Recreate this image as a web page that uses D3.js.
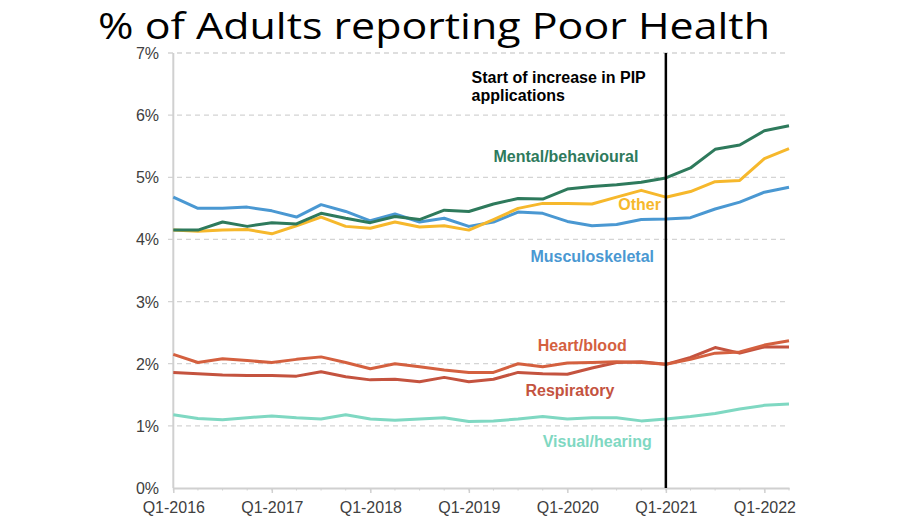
<!DOCTYPE html>
<html>
<head>
<meta charset="utf-8">
<script src="https://cdn.jsdelivr.net/npm/d3@7"></script>
<style>
  body { margin: 0; background: #fff; }
  text { font-family: "Liberation Sans", Arial, sans-serif; }
</style>
</head>
<body>
<script>
var quarters = [
  "Q1-2016", "Q2-2016", "Q3-2016", "Q4-2016",
  "Q1-2017", "Q2-2017", "Q3-2017", "Q4-2017",
  "Q1-2018", "Q2-2018", "Q3-2018", "Q4-2018",
  "Q1-2019", "Q2-2019", "Q3-2019", "Q4-2019",
  "Q1-2020", "Q2-2020", "Q3-2020", "Q4-2020",
  "Q1-2021", "Q2-2021", "Q3-2021", "Q4-2021",
  "Q1-2022", "Q2-2022"
]

var mental = [4.15, 4.15, 4.28, 4.21, 4.27, 4.25, 4.42, 4.34, 4.27, 4.37, 4.32, 4.47, 4.45,
  4.57, 4.66, 4.65, 4.81, 4.85, 4.88, 4.92, 4.99, 5.15, 5.45, 5.52, 5.75, 5.83]
var other = [4.15, 4.13, 4.15, 4.16, 4.09, 4.22, 4.36, 4.21, 4.18, 4.28, 4.20, 4.22, 4.15,
  4.32, 4.50, 4.58, 4.58, 4.57, 4.68, 4.79, 4.68, 4.77, 4.93, 4.95, 5.30, 5.46]
var musculo = [4.68, 4.50, 4.50, 4.52, 4.46, 4.36, 4.56, 4.45, 4.30, 4.41, 4.28, 4.34, 4.21,
  4.28, 4.44, 4.42, 4.29, 4.22, 4.24, 4.32, 4.33, 4.35, 4.49, 4.60, 4.76, 4.84]
var heart = [2.15, 2.02, 2.08, 2.05, 2.02, 2.07, 2.11, 2.02, 1.92, 2.00, 1.95, 1.90, 1.86,
  1.86, 2.00, 1.95, 2.01, 2.02, 2.03, 2.02, 1.99, 2.07, 2.17, 2.19, 2.30, 2.37]
var respiratory = [1.86, 1.84, 1.82, 1.81, 1.81, 1.80, 1.87, 1.79, 1.74, 1.75, 1.71, 1.78, 1.71,
  1.75, 1.86, 1.84, 1.83, 1.93, 2.02, 2.03, 1.99, 2.10, 2.26, 2.17, 2.27, 2.27]
var visual = [1.18, 1.12, 1.10, 1.13, 1.16, 1.13, 1.11, 1.18, 1.11, 1.09, 1.11, 1.13, 1.07,
  1.08, 1.11, 1.15, 1.11, 1.13, 1.13, 1.08, 1.11, 1.15, 1.20, 1.27, 1.33, 1.35]

var yTicks = [0, 1, 2, 3, 4, 5, 6, 7]
var markerQuarter = "Q1-2021"
var title = "% of Adults reporting Poor Health"
var note = ["Start of increase in PIP", "applications"]

var width = 920, height = 518

var svg = d3.select("body").append("svg")
  .attr("width", width)
  .attr("height", height)

var x = d3.scalePoint()
  .domain(quarters)
  .range([173.3, 789])

var y = d3.scaleLinear()
  .domain([0, 7])
  .range([488, 53])

// title
svg.append("text")
  .attr("x", 98)
  .attr("y", 39)
  .attr("textLength", 672)
  .attr("lengthAdjust", "spacingAndGlyphs")
  .style("font-family", "'Open Sans', 'Noto Sans', sans-serif")
  .style("font-size", "37px")
  .attr("fill", "#000")
  .text(title)

// dashed grid
svg.append("g")
  .selectAll("line")
  .data(yTicks.filter(function(d) { return d > 0 }))
  .join("line")
  .attr("x1", 168)
  .attr("x2", 789)
  .attr("y1", function(d) { return y(d) })
  .attr("y2", function(d) { return y(d) })
  .attr("stroke", "#d4d4d4")
  .attr("stroke-width", 1.3)
  .attr("stroke-dasharray", "5 4")

// y axis labels
svg.append("g")
  .selectAll("text")
  .data(yTicks)
  .join("text")
  .attr("x", 159)
  .attr("y", function(d) { return y(d) + 6 })
  .attr("text-anchor", "end")
  .attr("fill", "#404040")
  .style("font-size", "16px")
  .text(function(d) { return d + "%" })

// y axis line
svg.append("line")
  .attr("x1", x(quarters[0])).attr("x2", x(quarters[0]))
  .attr("y1", y(7)).attr("y2", y(0))
  .attr("stroke", "#d0d0d0")
  .attr("stroke-width", 2)

// x axis
var xAxis = d3.axisBottom(x)
  .tickValues(quarters.filter(function(d) { return d.indexOf("Q1") === 0 }))
  .tickSize(5)
  .tickSizeOuter(0)

var gx = svg.append("g")
  .attr("transform", "translate(0," + y(0) + ")")
  .call(xAxis)
gx.select(".domain").attr("stroke", "#d0d0d0").attr("stroke-width", 2)
gx.selectAll(".tick line").attr("stroke", "#d0d0d0").attr("stroke-width", 1.5)
gx.selectAll(".tick text")
  .attr("fill", "#404040")
  .attr("dy", "1.05em")
  .style("font-size", "16px")
  .style("font-family", "'Liberation Sans', Arial, sans-serif")

// quarter minor ticks
svg.append("g")
  .selectAll("line")
  .data(quarters)
  .join("line")
  .attr("x1", function(d) { return x(d) })
  .attr("x2", function(d) { return x(d) })
  .attr("y1", y(0))
  .attr("y2", y(0) + 2.5)
  .attr("stroke", "#d0d0d0")

var series = [
  { name: "Visual/hearing", values: visual, color: "#7fd8c2", lx: 15.0, ly: 0.665 },
  { name: "Respiratory", values: respiratory, color: "#c4533f", lx: 14.3, ly: 1.48 },
  { name: "Heart/blood", values: heart, color: "#d4603f", lx: 14.8, ly: 2.21 },
  { name: "Musculoskeletal", values: musculo, color: "#4a98d2", lx: 14.5, ly: 3.63 },
  { name: "Other", values: other, color: "#f6b82c", lx: 18.07, ly: 4.48 },
  { name: "Mental/behavioural", values: mental, color: "#2e7a5c", lx: 13.0, ly: 5.25 }
]

var line = d3.line()
  .x(function(d, i) { return x(quarters[i]) })
  .y(function(d) { return y(d) })

svg.append("g")
  .selectAll("path")
  .data(series)
  .join("path")
  .attr("d", function(d) { return line(d.values) })
  .attr("fill", "none")
  .attr("stroke", function(d) { return d.color })
  .attr("stroke-width", 3)
  .attr("stroke-linejoin", "round")

var step = x.step()
svg.append("g")
  .selectAll("text")
  .data(series)
  .join("text")
  .attr("x", function(d) { return x(quarters[0]) + d.lx * step })
  .attr("y", function(d) { return y(d.ly) })
  .attr("fill", function(d) { return d.color })
  .style("font-size", "16px")
  .style("font-weight", "bold")
  .text(function(d) { return d.name })

// marker line
svg.append("line")
  .attr("x1", x(markerQuarter)).attr("x2", x(markerQuarter))
  .attr("y1", y(7)).attr("y2", y(0))
  .attr("stroke", "#000")
  .attr("stroke-width", 2.5)

svg.append("g")
  .selectAll("text")
  .data(note)
  .join("text")
  .attr("x", 471.5)
  .attr("y", function(d, i) { return 82.7 + i * 18 })
  .attr("fill", "#000")
  .style("font-size", "16px")
  .style("font-weight", "bold")
  .text(function(d) { return d })
</script>
</body>
</html>
